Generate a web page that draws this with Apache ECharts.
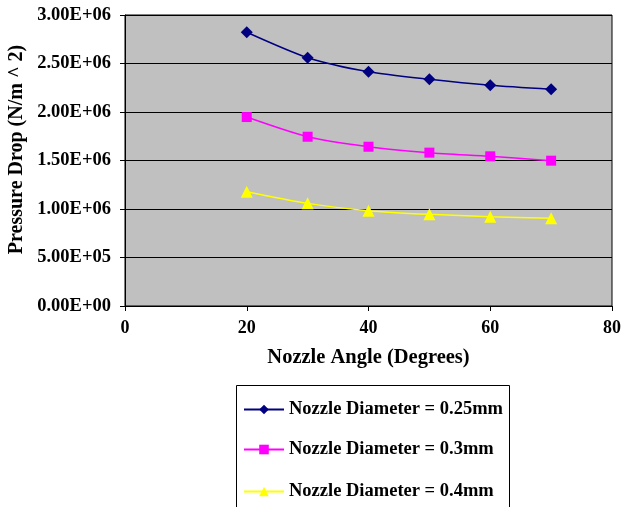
<!DOCTYPE html>
<html><head><meta charset="utf-8">
<script src="https://cdn.jsdelivr.net/npm/echarts@6/dist/echarts.min.js"></script>
<style>html,body{margin:0;padding:0;background:#fff}#c{width:622px;height:507px}</style>
</head><body><div id="c"></div>
<script>
const angles = [20, 30, 40, 50, 60, 70];
const d025 = [2.822e6, 2.56e6, 2.415e6, 2.337e6, 2.275e6, 2.234e6];
const d03 = [1.948e6, 1.745e6, 1.642e6, 1.581e6, 1.543e6, 1.498e6];
const d04 = [1.178e6, 1.058e6, 0.983e6, 0.945e6, 0.921e6, 0.904e6];
const seriesNames = ['Nozzle Diameter = 0.25mm', 'Nozzle Diameter = 0.3mm', 'Nozzle Diameter = 0.4mm'];
const xTitle = 'Nozzle Angle (Degrees)';
const yTitle = 'Pressure Drop (N/m ^ 2)';

const font = '"Liberation Serif", "Times New Roman", serif';
const pair = (arr) => angles.map((a, i) => [a, arr[i]]);
const chart = echarts.init(document.getElementById('c'), null, {renderer: 'canvas'});
function mk(name, data, color, symbol, size) {
  return {
    name, type: 'line', data: pair(data), smooth: 0.25,
    symbol, symbolSize: size,
    lineStyle: {color, width: 1.5},
    itemStyle: {color, borderWidth: 0},
    emphasis: {disabled: true}
  };
}
const legendTops = [400, 440, 482];
const legends = seriesNames.map((n, i) => ({
  orient: 'horizontal', left: 243, top: legendTops[i], padding: 0, itemWidth: 40, itemHeight: 12,
  textStyle: {fontFamily: font, fontWeight: 'bold', fontSize: 18.5, color: '#000'},
  data: [n], z: 5
}));
chart.setOption({
  animation: false,
  textStyle: {fontFamily: font},
  grid: {left: 125, top: 15, right: 10, bottom: 201, outerBoundsMode: 'none', containLabel: false,
    backgroundColor: '#C0C0C0', show: true, borderColor: '#000', borderWidth: 1},
  graphic: [{type: 'rect', shape: {x: 236.5, y: 385.5, width: 273, height: 140}, style: {fill: '#fff', stroke: '#000', lineWidth: 1}, z: 0}],
  legend: legends,
  xAxis: {
    type: 'value', min: 0, max: 80, interval: 20,
    name: xTitle, nameLocation: 'middle', nameGap: 41,
    nameTextStyle: {fontFamily: font, fontWeight: 'bold', fontSize: 20.5, color: '#000'},
    axisLine: {show: true, lineStyle: {color: '#000'}},
    axisTick: {show: true, length: 5, lineStyle: {color: '#000'}},
    axisLabel: {fontFamily: font, fontWeight: 'bold', fontSize: 18, color: '#000', margin: 13},
    splitLine: {show: false}
  },
  yAxis: {
    type: 'value', min: 0, max: 3e6, interval: 5e5,
    name: yTitle, nameLocation: 'middle', nameGap: 96, nameRotate: 90,
    nameTextStyle: {fontFamily: font, fontWeight: 'bold', fontSize: 20, color: '#000', padding: [0, 0, 0, 22]},
    axisLine: {show: true, lineStyle: {color: '#000'}},
    axisTick: {show: true, length: 5, lineStyle: {color: '#000'}},
    axisLabel: {fontFamily: font, fontWeight: 'bold', fontSize: 18.5, color: '#000', margin: 14,
      formatter: v => { const e = v === 0 ? 0 : Math.floor(Math.log10(v)); const m = v / Math.pow(10, e); return m.toFixed(2) + 'E+' + String(e).padStart(2, '0'); }},
    splitLine: {show: true, lineStyle: {color: '#000', width: 1}}
  },
  series: [
    mk(seriesNames[0], d025, '#000080', 'diamond', 12),
    mk(seriesNames[1], d03, '#FF00FF', 'rect', 10),
    mk(seriesNames[2], d04, '#FFFF00', 'triangle', 12)
  ]
});
</script></body></html>
